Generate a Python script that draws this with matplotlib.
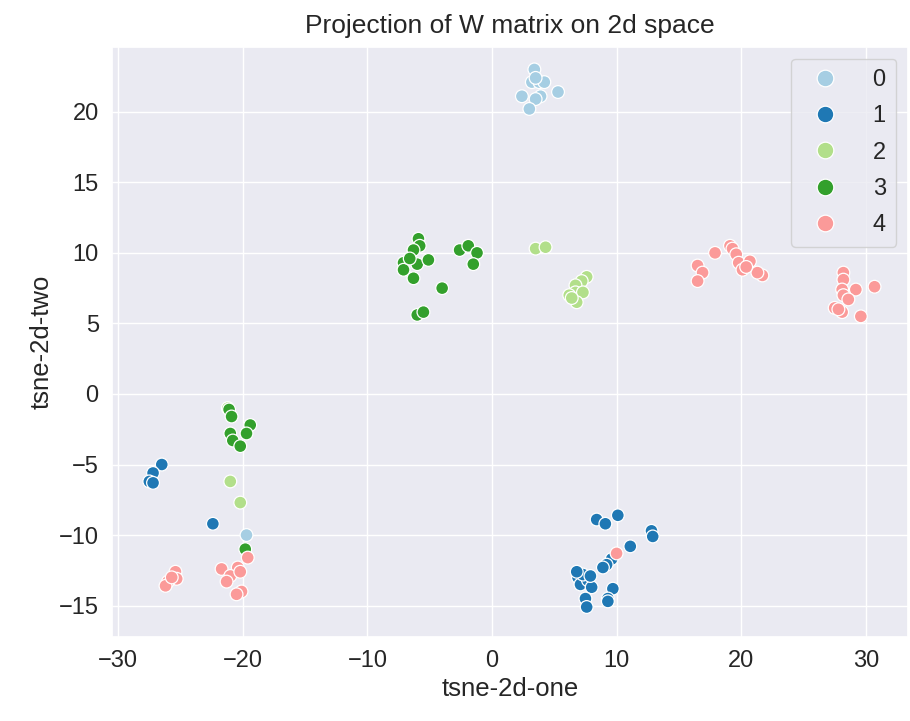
import pandas as pd
import seaborn as sns
import matplotlib
matplotlib.use("Agg")
import matplotlib.pyplot as plt

# points per class (tsne-2d-one, tsne-2d-two)
x0 = [3.4, 3.2, 3.8, 4.2, 3.5, 2.4, 3.9, 3.5, 5.3, 3.0, -19.7]
y0 = [23.0, 22.1, 22.1, 22.1, 22.4, 21.1, 21.1, 20.9, 21.4, 20.2, -10.0]

x1 = [-26.5, -27.2, -27.5, -27.2, -22.4,
      8.4, 9.1, 10.1, 12.8, 12.9, 11.1, 9.6, 9.2, 8.9, 6.9, 7.1, 7.7, 8.0,
      7.3, 9.7, 9.3, 9.3, 7.5, 7.6, 6.8, 7.9]
y1 = [-5.0, -5.6, -6.2, -6.3, -9.2,
      -8.9, -9.2, -8.6, -9.7, -10.1, -10.8, -11.7, -12.1, -12.3, -13.0, -13.5, -13.2, -13.7,
      -12.8, -13.8, -14.5, -14.7, -14.5, -15.1, -12.6, -12.9]

x2 = [3.5, 4.3, 7.6, 7.2, 6.7, 6.7, 7.3, 6.2, 6.8, 6.4, -21.0, -20.2, -21.2]
y2 = [10.3, 10.4, 8.3, 8.0, 7.7, 7.2, 7.2, 7.0, 6.5, 6.8, -6.2, -7.7, -1.0]

x3 = [-5.9, -5.8, -6.3, -7.1, -6.0, -5.1, -6.3, -2.6, -1.9, -1.2, -1.5, -4.0,
      -6.0, -5.5, -7.1, -6.6,
      -21.1, -20.9, -19.4, -19.7, -21.0, -20.8, -20.2, -19.8]
y3 = [11.0, 10.5, 10.2, 9.3, 9.2, 9.5, 8.2, 10.2, 10.5, 10.0, 9.2, 7.5,
      5.6, 5.8, 8.8, 9.6,
      -1.1, -1.6, -2.2, -2.8, -2.8, -3.3, -3.7, -11.0]

x4 = [19.1, 19.3, 17.9, 19.6, 16.5, 19.8, 20.7, 20.1, 16.9, 21.7, 21.3, 16.5, 20.4,
      28.2, 28.2, 28.1, 29.2, 30.7, 28.2, 28.6, 27.5, 28.1, 29.6, 27.8,
      -19.6, -20.4, -21.7, -21.0, -21.3, -20.2, -20.1, -20.5,
      -25.4, -25.3, -26.0, -26.2, -25.7, 10.0]
y4 = [10.5, 10.3, 10.0, 9.9, 9.1, 9.3, 9.4, 8.8, 8.6, 8.4, 8.6, 8.0, 9.0,
      8.6, 8.1, 7.4, 7.4, 7.6, 7.0, 6.7, 6.1, 5.8, 5.5, 6.0,
      -11.6, -12.3, -12.4, -12.9, -13.3, -12.6, -14.0, -14.2,
      -12.6, -13.1, -13.3, -13.6, -13.0, -11.3]

classes = [0, 1, 2, 3, 4]
xs = [x0, x1, x2, x3, x4]
ys = [y0, y1, y2, y3, y4]

rows = []
for c, xx, yy in zip(classes, xs, ys):
    for a, b in zip(xx, yy):
        rows.append({"tsne-2d-one": a, "tsne-2d-two": b, "y": c})
df = pd.DataFrame(rows)

sns.set_theme(style="darkgrid")
plt.rcParams['font.family'] = ['Liberation Sans', 'DejaVu Sans']

fig = plt.figure(figsize=(9.1, 7.21), dpi=100)
ax = fig.add_axes([0.123, 0.117, 0.875, 0.818])
sns.scatterplot(data=df, x="tsne-2d-one", y="tsne-2d-two", hue="y",
                palette=sns.color_palette("Paired", 5), s=85,
                edgecolor="white", linewidth=0.9, legend="full", ax=ax)

ax.set_xlim(-30.5, 33.4)
ax.set_ylim(-17.2, 24.6)
ax.set_xticks([-30, -20, -10, 0, 10, 20, 30])
ax.set_yticks([-15, -10, -5, 0, 5, 10, 15, 20])
ax.tick_params(labelsize=17)
ax.set_xlabel("tsne-2d-one", fontsize=18.5)
ax.set_ylabel("tsne-2d-two", fontsize=18.5)
ax.set_title("Projection of W matrix on 2d space", fontsize=19, pad=10)

leg = ax.legend(loc="upper right", fontsize=17, markerscale=1.3,
                handletextpad=1.0, borderpad=0.45, labelspacing=0.6)

fig.savefig("out.png", dpi=100)
